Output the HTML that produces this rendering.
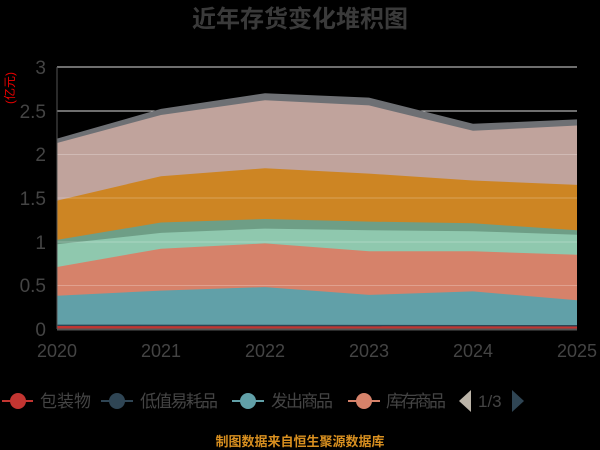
<!DOCTYPE html>
<html><head><meta charset="utf-8"><style>
html,body{margin:0;padding:0;background:#000;width:600px;height:450px;overflow:hidden}
text{font-family:"Liberation Sans","Noto Sans CJK SC",sans-serif}
</style></head><body>
<svg width="600" height="450" xmlns="http://www.w3.org/2000/svg">
<rect width="600" height="450" fill="#000"/>
<text x="300" y="27" text-anchor="middle" font-size="24" font-weight="bold" fill="#3a3a3a">近年存货变化堆积图</text>
<text transform="translate(14,88) rotate(-90)" text-anchor="middle" font-size="12" fill="#e00">(亿元)</text>
<line x1="57" y1="67" x2="577" y2="67" stroke="#ddd" stroke-width="1"/>
<line x1="57" y1="111" x2="577" y2="111" stroke="#ddd" stroke-width="1"/>
<g>
<polygon fill="#6e7074" points="57,138.6 161,108.9 265,93.2 369,97.6 473,123.8 577,119.4 577,329 57,329"/>
<polygon fill="#c0a39c" points="57,143 161,115 265,100.2 369,105.4 473,130.8 577,125.5 577,329 57,329"/>
<polygon fill="#cd8523" points="57,200.6 161,176.2 265,168.3 369,173.6 473,180.5 577,184.9 577,329 57,329"/>
<polygon fill="#6e9e86" points="57,239.9 161,222.5 265,219 369,221.6 473,223.3 577,230.3 577,329 57,329"/>
<polygon fill="#8fc8ae" points="57,244.3 161,232.9 265,228.6 369,230.3 473,231.2 577,234.7 577,329 57,329"/>
<polygon fill="#d6826a" points="57,267 161,248.7 265,243.4 369,251.3 473,251.3 577,254.8 577,329 57,329"/>
<polygon fill="#61a0a8" points="57,295.8 161,290.6 265,287.1 369,294.9 473,291.4 577,300.2 577,329 57,329"/>
<polygon fill="#2f4554" points="57,324.6 577,325 577,329 57,329"/>
<polygon fill="#c23531" points="57,326 577,326.5 577,329 57,329"/>
</g>
<g stroke="#fff" stroke-opacity="0.25">
<line x1="57" y1="154.5" x2="577" y2="154.5"/>
<line x1="57" y1="198" x2="577" y2="198"/>
<line x1="57" y1="242" x2="577" y2="242"/>
<line x1="57" y1="285.5" x2="577" y2="285.5"/>
</g>
<line x1="57" y1="67" x2="57" y2="329" stroke="#555"/>
<line x1="57" y1="329.5" x2="577" y2="329.5" stroke="#555" stroke-width="2"/>
<g font-size="19" fill="#444" text-anchor="end">
<text x="46" y="74">3</text><text x="46" y="118">2.5</text><text x="46" y="161">2</text>
<text x="46" y="205">1.5</text><text x="46" y="249">1</text><text x="46" y="292">0.5</text><text x="46" y="336">0</text>
</g>
<g font-size="18" fill="#444" text-anchor="middle">
<text x="57" y="357">2020</text><text x="161" y="357">2021</text><text x="265" y="357">2022</text>
<text x="369" y="357">2023</text><text x="473" y="357">2024</text><text x="577" y="357">2025</text>
</g>
<g font-size="17" fill="#444">
<line x1="2" y1="401" x2="33" y2="401" stroke="#c23531" stroke-width="2"/><circle cx="18" cy="401" r="8" fill="#c23531"/>
<text x="40" y="407">包装物</text>
<line x1="101" y1="401" x2="133" y2="401" stroke="#2f4554" stroke-width="2"/><circle cx="117" cy="401" r="8" fill="#2f4554"/>
<text x="140" y="407" textLength="78">低值易耗品</text>
<line x1="232" y1="401" x2="264" y2="401" stroke="#61a0a8" stroke-width="2"/><circle cx="248" cy="401" r="8" fill="#61a0a8"/>
<text x="271" y="407" textLength="62">发出商品</text>
<line x1="348" y1="401" x2="380" y2="401" stroke="#d6826a" stroke-width="2"/><circle cx="364" cy="401" r="8" fill="#d6826a"/>
<text x="386" y="407" textLength="60">库存商品</text>
<polygon points="471,390 459,401 471,412" fill="#bbb4a8"/>
<text x="478" y="407" fill="#444">1/3</text>
<polygon points="512,390 524,401 512,412" fill="#2f4554"/>
</g>
<text x="300" y="446" text-anchor="middle" font-size="13" font-weight="bold" fill="#d99020">制图数据来自恒生聚源数据库</text>
</svg>
</body></html>
